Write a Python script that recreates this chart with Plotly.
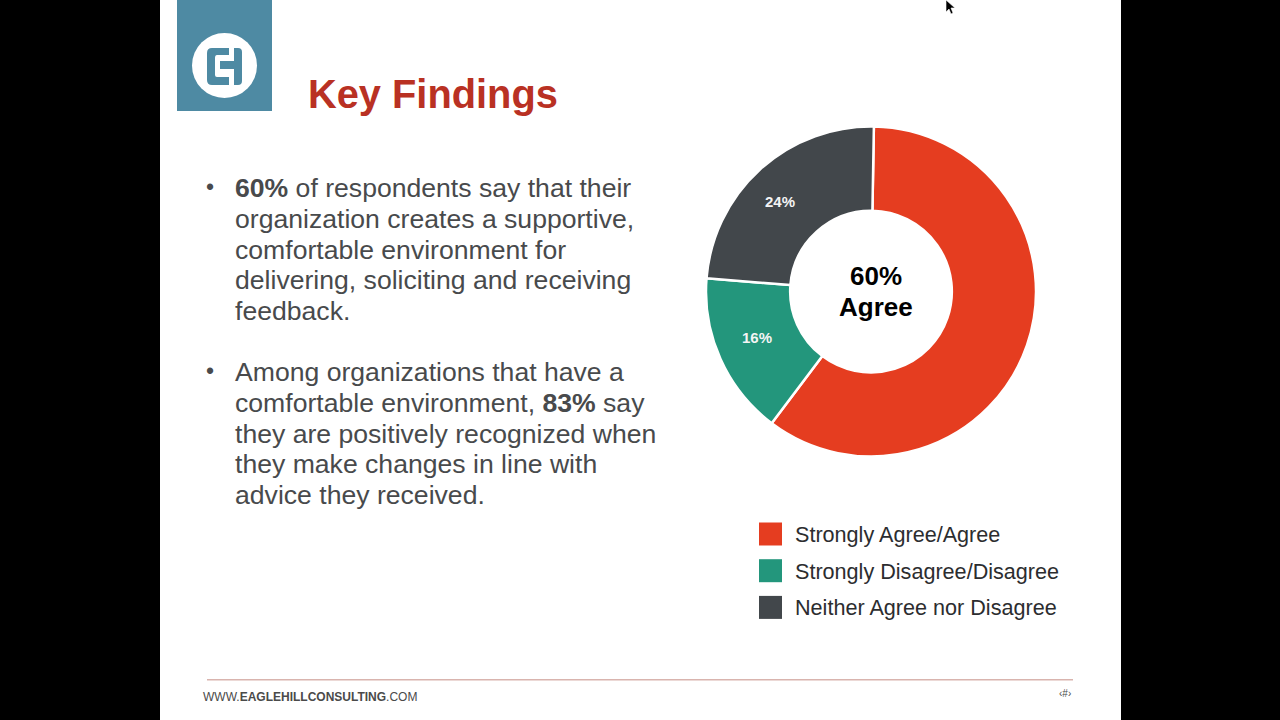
"""Key Findings slide with the agreement donut."""

import plotly.graph_objects as go

categories = ['Strongly Agree/Agree', 'Strongly Disagree/Disagree', 'Neither Agree nor Disagree']
shares = [60, 16, 24]
slice_labels = ['', '16%', '24%']
colors = ['#e53d20', '#23967c', '#42474b']

title = 'Key Findings'
center_lines = ['60%', 'Agree']
footer = 'WWW.<b>EAGLEHILLCONSULTING</b>.COM'

bullet_one = [
    '<b>60%</b> of respondents say that their',
    'organization creates a supportive,',
    'comfortable environment for',
    'delivering, soliciting and receiving',
    'feedback.',
]
bullet_two = [
    'Among organizations that have a',
    'comfortable environment, <b>83%</b> say',
    'they are positively recognized when',
    'they make changes in line with',
    'advice they received.',
]

FONT = 'Liberation Sans'
TEXT_COLOR = '#484a4c'
LOGO_COLOR = '#4e8aa3'

# where the slice labels sit on the slide
label_spots = [None, (757, 337), (780, 201)]


def AddText(fig, x, y, text, size, color, xanchor='left', **kwargs):
    fig.add_annotation(x=x, y=y, xref='x', yref='y', text=text, showarrow=False,
                       xanchor=xanchor, yanchor='middle', borderpad=0,
                       font=dict(family=FONT, size=size, color=color), **kwargs)


def AddRect(fig, x0, y0, x1, y1, color):
    fig.add_shape(type='rect', x0=x0, y0=y0, x1=x1, y1=y1, xref='x', yref='y',
                  fillcolor=color, line_width=0, layer='above')


fig = go.Figure()

fig.add_trace(go.Pie(
    labels=categories, values=shares, textinfo='none',
    marker=dict(colors=colors, line=dict(color='white', width=2.5)),
    hole=0.49, sort=False, direction='clockwise', rotation=1, showlegend=False,
    domain=dict(x=[706 / 1280, 1036 / 1280], y=[1 - 457 / 720, 1 - 126 / 720]),
))

for label, spot in zip(slice_labels, label_spots):
    if spot:
        AddText(fig, spot[0], spot[1], '<b>%s</b>' % label, 15, '#f4f4f4', xanchor='center')

# black bands either side of the slide
AddRect(fig, 0, 0, 160, 720, '#000000')
AddRect(fig, 1121, 0, 1280, 720, '#000000')

# logo
AddRect(fig, 177, 0, 272, 111, LOGO_COLOR)
fig.add_shape(type='circle', x0=192, y0=33, x1=257, y1=98, fillcolor='white', line_width=0)
fig.add_shape(type='path', line_width=0, fillcolor=LOGO_COLOR,
              path='M 229 48 L 212 48 Q 207 48 207 53 L 207 80 Q 207 85 212 85 L 229 85 '
                   'L 229 77 L 217 77 Q 215 77 215 75 L 215 58 Q 215 55 217 55 L 229 55 Z')
fig.add_shape(type='path', line_width=0, fillcolor=LOGO_COLOR,
              path='M 234 48 L 238 48 Q 242 48 242 52 L 242 81 Q 242 85 238 85 L 234 85 '
                   'L 234 69 L 220 69 L 220 61 L 234 61 Z')

AddText(fig, 307, 94, '<b>%s</b>' % title, 39.8, '#b93123')

# bullets
for lines, y_start in ((bullet_one, 188), (bullet_two, 372)):
    AddText(fig, 209.5, y_start - 1, '•', 23, TEXT_COLOR, xanchor='center')
    for i, line in enumerate(lines):
        AddText(fig, 233.5, y_start + i * 30.75, line, 26.6, TEXT_COLOR)

for line, y in zip(center_lines, (276, 306.5)):
    AddText(fig, 876, y, '<b>%s</b>' % line, 26, '#000000', xanchor='center')

# legend
for i, (name, color) in enumerate(zip(categories, colors)):
    y_mid = 534.5 + i * 36.7
    AddRect(fig, 759, y_mid - 12, 782, y_mid + 11, color)
    AddText(fig, 794, y_mid, name, 21.6, '#2c2d2f')

# footer
fig.add_shape(type='rect', x0=207, x1=1073, y0=679, y1=680.5, fillcolor='#d9b4ae', line_width=0)
AddText(fig, 202, 697, footer, 12, '#4a4a4a')
AddText(fig, 1065, 693, '‹#›', 10, '#4a4a4a', xanchor='center')

# mouse pointer
fig.add_shape(type='path', line=dict(color='white', width=0.6), fillcolor='black',
              path='M 946 0 L 946 12 L 949 9 L 951 14 L 953 13 L 951 8 L 955 8 Z')

fig.update_layout(
    width=1280, height=720, autosize=False,
    margin=dict(l=0, r=0, t=0, b=0),
    paper_bgcolor='white', plot_bgcolor='white',
    xaxis=dict(range=[0, 1280], visible=False, fixedrange=True),
    yaxis=dict(range=[720, 0], visible=False, fixedrange=True),
)

fig.write_html("out.html", config=dict(displayModeBar=False),
               post_script="document.body.style.margin='0';")
